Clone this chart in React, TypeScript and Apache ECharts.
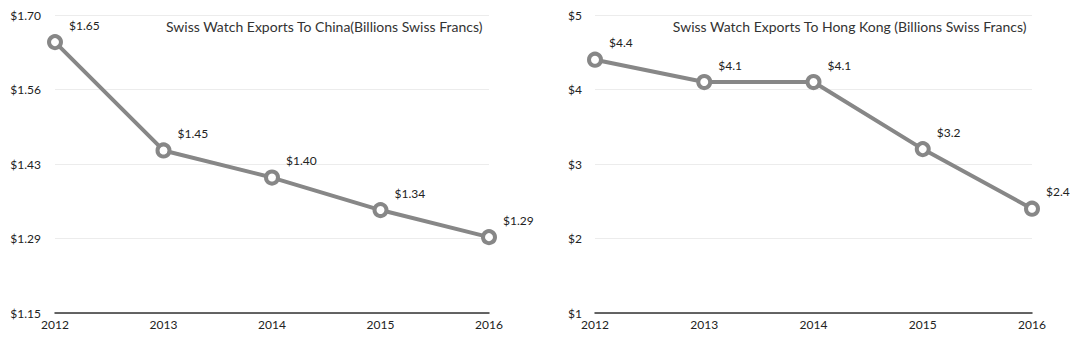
import React, { useEffect, useRef } from "react";
import * as echarts from "echarts";

const years = ["2012", "2013", "2014", "2015", "2016"];
const chinaValues = [1.65, 1.45, 1.4, 1.34, 1.29];
const hongKongValues = [4.4, 4.1, 4.1, 3.2, 2.4];
const chinaTickValues = [1.15, 1.2875, 1.425, 1.5625, 1.7];
const chinaTickLabels = ["$1.15", "$1.29", "$1.43", "$1.56", "$1.70"];
const hongKongTickLabels = ["$1", "$2", "$3", "$4", "$5"];
const chinaTitle = "Swiss Watch Exports To China(Billions Swiss Francs)";
const hongKongTitle = "Swiss Watch Exports To Hong Kong (Billions Swiss Francs)";

const FONT = "Lato";
const LINE_COLOR = "#878787";

export default function App() {
  const ref = useRef<HTMLDivElement>(null);
  useEffect(() => {
    document.body.style.margin = "0";
    const chart = echarts.init(ref.current!, null, { renderer: "svg" });
    const xAxisBase = {
      type: "category",
      data: years,
      boundaryGap: false,
      axisLine: { show: true, lineStyle: { color: "#333", width: 1.5 } },
      axisTick: { show: false },
      axisLabel: { color: "#222", fontSize: 12, fontFamily: FONT, margin: 5, interval: 0 },
      splitLine: { show: false },
    };
    const yAxisBase = {
      type: "value",
      axisLine: { show: false },
      axisTick: { show: false },
      splitLine: { show: true, lineStyle: { color: "#ececec", width: 1 } },
    };
    const seriesBase = {
      type: "line",
      symbol: "circle",
      symbolSize: 12,
      lineStyle: { color: LINE_COLOR, width: 4 },
      itemStyle: { color: "#ffffff", borderColor: LINE_COLOR, borderWidth: 4 },
      label: {
        show: true,
        position: "right",
        distance: 6,
        offset: [0, -17],
        color: "#222",
        fontSize: 12,
        fontFamily: FONT,
      },
    };
    const titleStyle = { fontSize: 14, fontWeight: "normal", color: "#333", fontFamily: FONT };
    chart.setOption({
      animation: false,
      backgroundColor: "#ffffff",
      textStyle: { fontFamily: FONT },
      title: [
        { text: chinaTitle, right: 592, top: 14, textStyle: titleStyle },
        { text: hongKongTitle, right: 48, top: 14, textStyle: titleStyle },
      ],
      grid: [
        { left: 55, width: 434, top: 15, height: 298 },
        { left: 595, width: 437, top: 15, height: 298 },
      ],
      xAxis: [
        { ...xAxisBase, gridIndex: 0 },
        { ...xAxisBase, gridIndex: 1 },
      ],
      yAxis: [
        {
          ...yAxisBase,
          gridIndex: 0,
          min: 1.15,
          max: 1.7,
          axisTick: { show: false, customValues: chinaTickValues },
          axisLabel: {
            customValues: chinaTickValues,
            color: "#222",
            fontSize: 12,
            fontFamily: FONT,
            margin: 14,
            formatter: (v: number) => {
              let best = 0;
              chinaTickValues.forEach((t, i) => {
                if (Math.abs(t - v) < Math.abs(chinaTickValues[best] - v)) best = i;
              });
              return chinaTickLabels[best];
            },
          },
        },
        {
          ...yAxisBase,
          gridIndex: 1,
          min: 1,
          max: 5,
          interval: 1,
          axisLabel: {
            color: "#222",
            fontSize: 12,
            fontFamily: FONT,
            margin: 13,
            formatter: (v: number) => hongKongTickLabels[Math.round(v) - 1],
          },
        },
      ],
      series: [
        {
          ...seriesBase,
          xAxisIndex: 0,
          yAxisIndex: 0,
          data: chinaValues,
          label: { ...seriesBase.label, formatter: (p: any) => "$" + p.value.toFixed(2) },
        },
        {
          ...seriesBase,
          xAxisIndex: 1,
          yAxisIndex: 1,
          data: hongKongValues,
          label: { ...seriesBase.label, formatter: (p: any) => "$" + p.value.toFixed(1) },
        },
      ],
    });
    return () => chart.dispose();
  }, []);
  return <div ref={ref} style={{ width: 1080, height: 338 }} />;
}
